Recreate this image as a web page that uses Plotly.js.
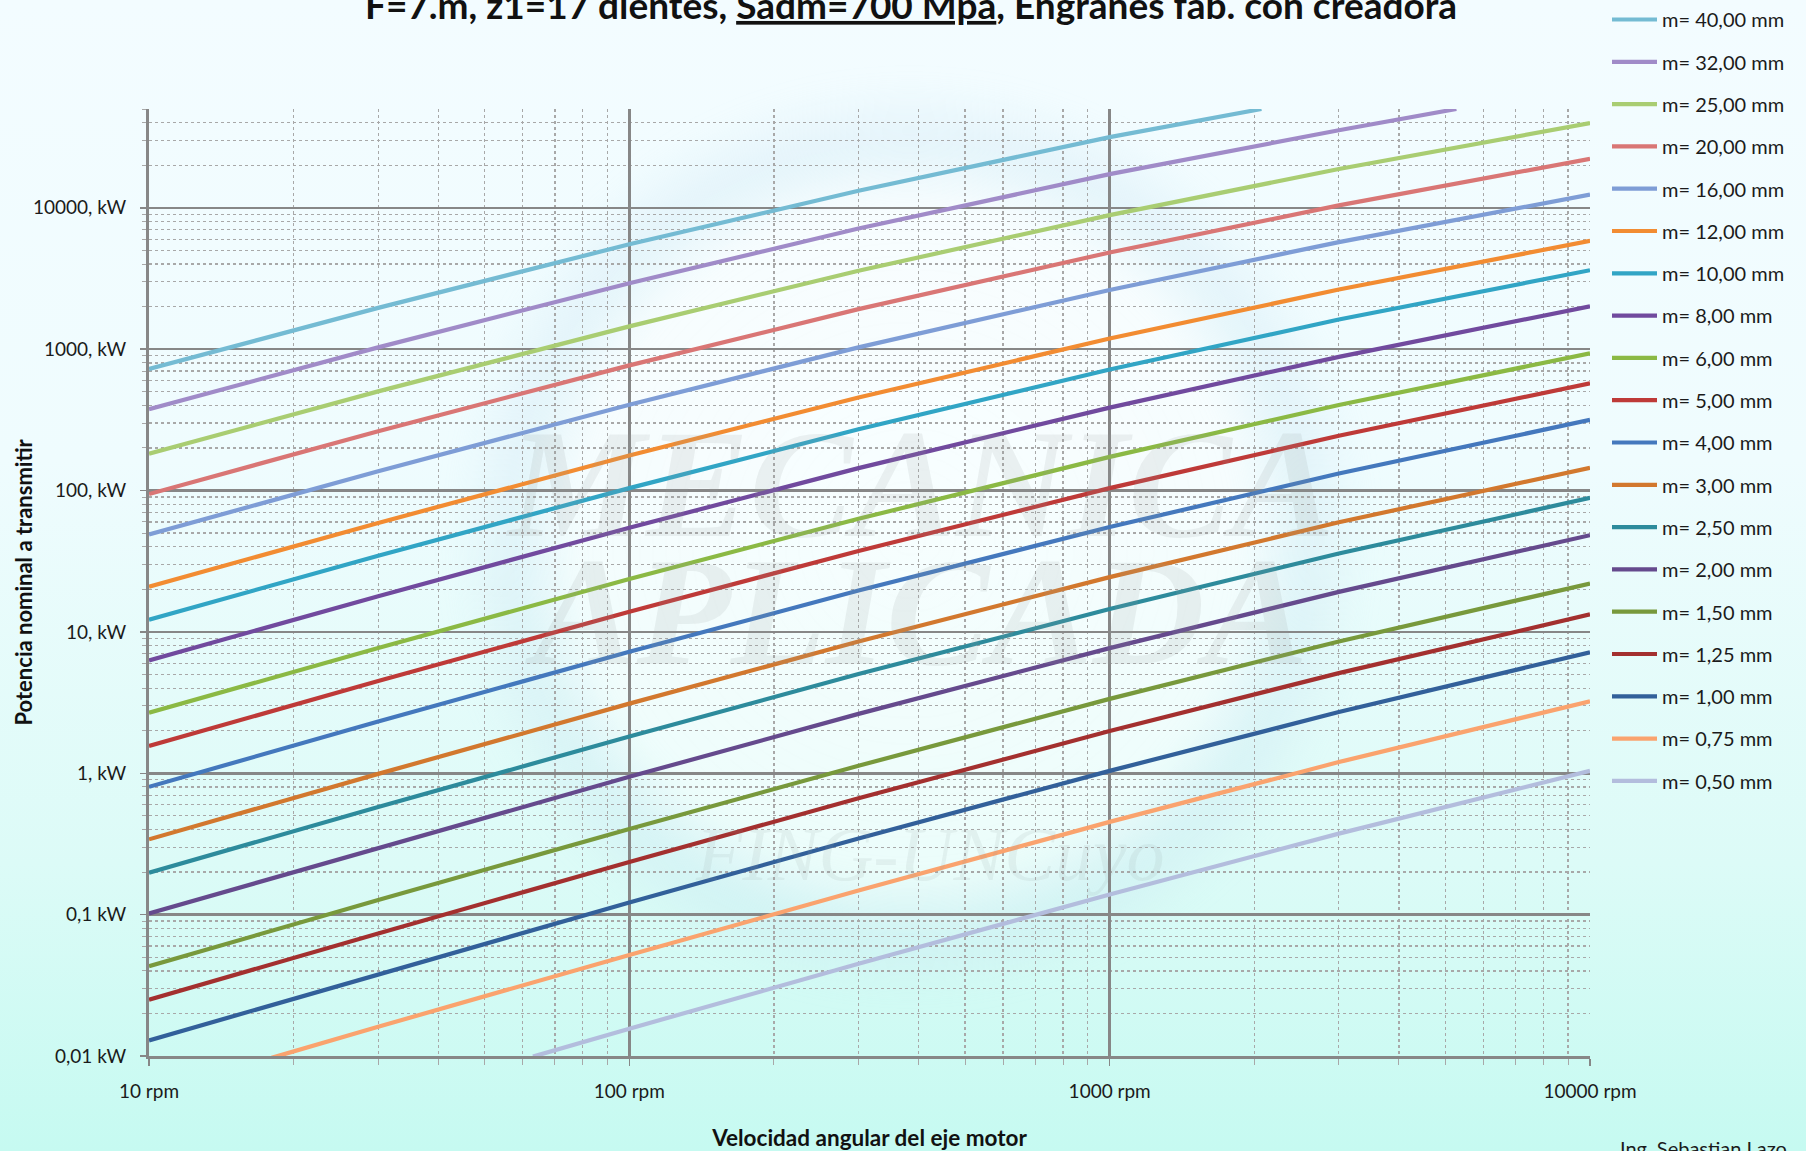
<!DOCTYPE html>
<html>
<head>
<meta charset="utf-8">
<script src="https://cdn.plot.ly/plotly-3.0.1.min.js"></script>
<style>
  html, body { margin: 0; padding: 0; width: 1806px; height: 1151px; overflow: hidden; }
  body { background: linear-gradient(to bottom, #F3FCFF 0%, #EFFCFE 40%, #DCFBF7 75%, #C6FAF1 100%); }
  #logo { position: absolute; left: 0; top: 0; width: 1806px; height: 1151px;
    background: radial-gradient(circle 460px at 910px 540px,
      rgba(255,255,255,0.55) 0%, rgba(255,255,255,0.45) 72%,
      rgba(190,222,238,0.26) 86%, rgba(210,235,245,0) 100%);
    filter: blur(12px); }
  #chart { position: absolute; left: 0; top: 0; width: 1806px; height: 1151px; }
</style>
</head>
<body>
<div id="logo"></div>
<div id="chart"></div>
<script>
// Velocidad del eje motor (rpm) en la que se leen las curvas
const rpm      = [10, 30, 100, 300, 1000, 3000, 10000];
const rpm_m40  = [10, 30, 100, 300, 1000, 2070];
const rpm_m32  = [10, 30, 100, 300, 1000, 3000, 5270];
const rpm_m075 = [18, 30, 100, 300, 1000, 3000, 10000];
const rpm_m050 = [63, 100, 300, 1000, 3000, 10000];

// Potencia nominal a transmitir (kW) para cada módulo
const kW_m40   = [724, 1960, 5520, 13200, 31600, 50000];
const kW_m32   = [376, 1030, 2930, 7130, 17300, 35400, 50000];
const kW_m25   = [182, 503, 1450, 3590, 8870, 18800, 39700];
const kW_m20   = [94.4, 263, 768, 1920, 4830, 10400, 22200];
const kW_m16   = [48.9, 137, 405, 1030, 2620, 5720, 12400];
const kW_m12   = [20.9, 59.0, 177, 455, 1190, 2640, 5840];
const kW_m10   = [12.2, 34.6, 104, 271, 718, 1620, 3620];
const kW_m8    = [6.29, 17.9, 54.6, 144, 386, 882, 2010];
const kW_m6    = [2.68, 7.69, 23.7, 63.1, 173, 403, 934];
const kW_m5    = [1.56, 4.49, 13.9, 37.4, 104, 244, 574];
const kW_m4    = [0.802, 2.32, 7.24, 19.6, 55.2, 132, 316];
const kW_m3    = [0.341, 0.990, 3.11, 8.54, 24.4, 59.6, 145];
const kW_m250  = [0.198, 0.577, 1.82, 5.03, 14.5, 35.9, 88.7];
const kW_m2    = [0.102, 0.297, 0.944, 2.63, 7.68, 19.2, 48.3];
const kW_m150  = [0.0431, 0.127, 0.404, 1.13, 3.36, 8.56, 22.0];
const kW_m125  = [0.0250, 0.0736, 0.236, 0.665, 1.99, 5.11, 13.3];
const kW_m1    = [0.0129, 0.0379, 0.122, 0.346, 1.04, 2.71, 7.18];
const kW_m075  = [0.0097, 0.0161, 0.0519, 0.148, 0.453, 1.20, 3.23];
const kW_m050  = [0.0099, 0.0156, 0.0449, 0.139, 0.374, 1.04];

const moduleLabels = ['m= 40,00 mm', 'm= 32,00 mm', 'm= 25,00 mm', 'm= 20,00 mm', 'm= 16,00 mm',
  'm= 12,00 mm', 'm= 10,00 mm', 'm= 8,00 mm', 'm= 6,00 mm', 'm= 5,00 mm', 'm= 4,00 mm',
  'm= 3,00 mm', 'm= 2,50 mm', 'm= 2,00 mm', 'm= 1,50 mm', 'm= 1,25 mm', 'm= 1,00 mm',
  'm= 0,75 mm', 'm= 0,50 mm'];
const lineColors = ['#74BBD3', '#A08BC8', '#A9CD72', '#D97675', '#7E9DD6',
  '#F28C32', '#31A5C5', '#714A9E', '#8BB944', '#BE3A38', '#4478BD',
  '#D2782E', '#2D8B9C', '#654A8D', '#78993C', '#A3302F', '#32609A',
  '#FAA36E', '#B3BDDD'];

const xTickVals = [10, 100, 1000, 10000];
const xTickText = ['10 rpm', '100 rpm', '1000 rpm', '10000 rpm'];
const yTickVals = [0.01, 0.1, 1, 10, 100, 1000, 10000];
const yTickText = ['0,01 kW', '0,1 kW', '1, kW', '10, kW', '100, kW', '1000, kW', '10000, kW'];

const xSeries = [rpm_m40, rpm_m32, rpm, rpm, rpm, rpm, rpm, rpm, rpm, rpm, rpm,
  rpm, rpm, rpm, rpm, rpm, rpm, rpm_m075, rpm_m050];
const ySeries = [kW_m40, kW_m32, kW_m25, kW_m20, kW_m16, kW_m12, kW_m10, kW_m8, kW_m6,
  kW_m5, kW_m4, kW_m3, kW_m250, kW_m2, kW_m150, kW_m125, kW_m1, kW_m075, kW_m050];

// minor divisions 2..9 inside each decade
function minorDecades(lo, hi, maxVal) {
  const out = [];
  for (let e = lo; e < hi; e++) {
    for (let k = 2; k <= 9; k++) {
      const v = k * Math.pow(10, e);
      if (v <= maxVal * 1.0001) out.push(+v.toPrecision(3));
    }
  }
  return out;
}

const traces = moduleLabels.map((name, i) => ({
  type: 'scatter',
  mode: 'lines',
  name: name,
  legendgroup: 'g' + i,
  x: xSeries[i],
  y: ySeries[i],
  line: { color: lineColors[i], width: 4.2 },
  hoverinfo: 'x+y+name'
}));

const gridMajor = '#878787';
const gridMinor = '#a8a8a8';
const titleFont = { size: 22.5, weight: 700, color: '#111' };

const layout = {
  width: 1806,
  height: 1151,
  margin: { l: 149, r: 216, t: 109, b: 95, pad: 0 },
  paper_bgcolor: 'rgba(0,0,0,0)',
  plot_bgcolor: 'rgba(0,0,0,0)',
  font: { family: 'Lato, "Open Sans", sans-serif', size: 19, color: '#1b1b1b' },
  title: {
    text: 'F=7.m, z1=17 dientes, <span style="text-decoration:underline">Sadm=700 Mpa</span>, Engranes fab. con creadora',
    font: { size: 37, weight: 700, color: '#111' },
    xref: 'container', yref: 'container',
    x: 911 / 1806, xanchor: 'center',
    y: 1 - 6 / 1151, yanchor: 'middle'
  },
  showlegend: true,
  legend: {
    xref: 'container', yref: 'container',
    x: 1607 / 1806, xanchor: 'left',
    y: 1, yanchor: 'top',
    maxheight: 1140,
    bgcolor: 'rgba(0,0,0,0)',
    font: { size: 20, color: '#1b1b1b' },
    tracegroupgap: 13.3,
    itemwidth: 45
  },
  xaxis: {
    type: 'log',
    range: [1, 4],
    tickmode: 'array', tickvals: xTickVals, ticktext: xTickText,
    ticks: 'outside', ticklen: 7, tickwidth: 1.5, tickcolor: gridMajor,
    ticklabelstandoff: 9,
    showline: true, linecolor: gridMajor, linewidth: 3,
    showgrid: true, gridcolor: gridMajor, gridwidth: 2.5,
    zeroline: false,
    minor: {
      tickmode: 'array', tickvals: minorDecades(1, 4, 10000),
      ticks: 'outside', ticklen: 6, tickwidth: 1, tickcolor: gridMinor,
      showgrid: true, gridcolor: gridMinor, gridwidth: 1.3, griddash: 'dot'
    },
    title: { text: 'Velocidad angular del eje motor', font: titleFont, standoff: 30 }
  },
  yaxis: {
    type: 'log',
    range: [-2, Math.log10(50000)],
    tickmode: 'array', tickvals: yTickVals, ticktext: yTickText,
    ticks: 'outside', ticklen: 6, tickwidth: 1.5, tickcolor: gridMajor,
    ticklabelstandoff: 10,
    showline: true, linecolor: gridMajor, linewidth: 3,
    showgrid: true, gridcolor: gridMajor, gridwidth: 2.5,
    zeroline: false,
    minor: {
      tickmode: 'array', tickvals: minorDecades(-2, 5, 50000),
      ticks: 'outside', ticklen: 4, tickwidth: 1, tickcolor: gridMinor,
      showgrid: true, gridcolor: gridMinor, gridwidth: 1.3, griddash: 'dot'
    }
  },
  annotations: [
    { text: '<b><i>MECANICA</i></b>', xref: 'paper', yref: 'paper', x: 0.535, y: 0.604,
      showarrow: false, font: { family: '"Liberation Serif", "DejaVu Serif", serif', size: 155, color: 'rgba(150,155,155,0.14)' } },
    { text: '<b><i>APLICADA</i></b>', xref: 'paper', yref: 'paper', x: 0.532, y: 0.469,
      showarrow: false, font: { family: '"Liberation Serif", "DejaVu Serif", serif', size: 155, color: 'rgba(150,155,155,0.14)' } },
    { text: '<i>FING-UNCuyo</i>', xref: 'paper', yref: 'paper', x: 0.542, y: 0.167,
      showarrow: false, font: { family: '"Liberation Serif", "DejaVu Serif", serif', size: 76, color: 'rgba(150,160,160,0.13)' } },
    // vertical axis title
    { text: '<b>Potencia nominal a transmitir</b>', xref: 'paper', yref: 'paper',
      x: (23 - 149) / 1441, y: 0.5, xanchor: 'center', yanchor: 'middle', textangle: -90,
      showarrow: false, font: { size: 22, color: '#111' } },
    { text: 'Ing. Sebastian Lazo', xref: 'paper', yref: 'paper', x: (1618 - 149) / 1441, y: (1056 - 1134) / 947,
      xanchor: 'left', yanchor: 'top', showarrow: false, font: { size: 20, color: '#1b1b1b' } }
  ]
};

Plotly.newPlot('chart', traces, layout, { displayModeBar: false, staticPlot: true });
</script>
</body>
</html>
